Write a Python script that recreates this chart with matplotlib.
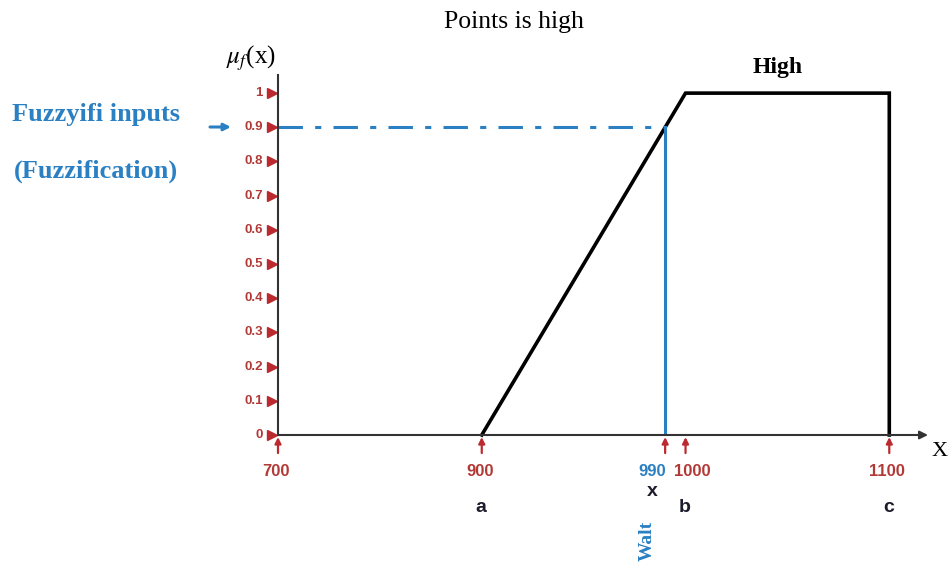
import numpy as np
import matplotlib
matplotlib.use('Agg')
import matplotlib.pyplot as plt
import matplotlib.transforms as mtransforms

# membership function "High" (trapezoid a-b-c)
shape_x = [900, 1000, 1100, 1100]
shape_y = [0, 1, 1, 0]

# crisp input
input_x = 990
input_mu = 0.9

xticks = [700, 900, 990, 1000, 1100]
xtick_labels = ['700', '900', '990', '1000', '1100']
yticks = [0, 0.1, 0.2, 0.3, 0.4, 0.5, 0.6, 0.7, 0.8, 0.9, 1]
ytick_labels = ['0', '0.1', '0.2', '0.3', '0.4', '0.5', '0.6', '0.7', '0.8', '0.9', '1']
point_names = ['a', 'b', 'c']
point_x = [900, 1000, 1100]

RED = '#bb2a2e'
LABEL_RED = '#b23a36'
BLUE = '#2a80c2'
DARK = '#333333'
SERIF = 'Liberation Serif'
SANS = 'Liberation Sans'
PT = 0.72  # points per pixel at dpi 100

plt.rcParams['mathtext.fontset'] = 'stix'


# x axis is squeezed to half scale below 900
def fwd(x):
    x = np.asarray(x, dtype=float)
    return np.where(x < 900, 900 - (900 - x) / 2.0, x)


def inv(y):
    y = np.asarray(y, dtype=float)
    return np.where(y < 900, 900 - (900 - y) * 2.0, y)


fig = plt.figure(figsize=(9.5, 5.65), dpi=100)
ax = fig.add_axes([278/950, 1 - 435/565, (928 - 278)/950, (435 - 75)/565])
ax.set_xscale('function', functions=(fwd, inv))
ax.set_xlim(700, 1119)
ax.set_ylim(0, 1.053)

for s in ['top', 'right', 'bottom']:
    ax.spines[s].set_visible(False)
ax.spines['left'].set_color(DARK)
ax.spines['left'].set_linewidth(1.5)
ax.annotate('', xy=(1.0, 0), xycoords='axes fraction', xytext=(0, 0),
            arrowprops=dict(arrowstyle='-|>', color=DARK, lw=1.5,
                            mutation_scale=12, shrinkA=0, shrinkB=0))
ax.set_xticks([])
ax.set_yticks([])

# the fuzzy set
ax.plot(shape_x, shape_y, color='black', lw=2.6, solid_joinstyle='miter', clip_on=False)

# fuzzification of the input
ax.plot([700, input_x], [input_mu, input_mu], color=BLUE, lw=2.2,
        dashes=[8, 4, 2, 4])
ax.plot([input_x, input_x], [0, input_mu], color=BLUE, lw=2.2)

# y ticks: red triangles and labels
trans_y = mtransforms.blended_transform_factory(ax.transAxes, ax.transData)
ax.plot([-0.009] * len(yticks), yticks, linestyle='none', marker='>',
        markersize=6.5, color=RED, transform=trans_y, clip_on=False)
for v, lab in zip(yticks, ytick_labels):
    ax.annotate(lab, xy=(0, v), xycoords=trans_y, xytext=(-15 * PT, 0),
                textcoords='offset points', ha='right', va='center',
                fontsize=9.5, fontweight='bold', color=LABEL_RED, family=SANS)

# x ticks: red up-arrows and labels
label_shift = {990: -13, 1000: 7}
for v, lab in zip(xticks, xtick_labels):
    ax.annotate('', xy=(v, 0), xytext=(0, -13), textcoords='offset points',
                arrowprops=dict(arrowstyle='-|>', color=RED, lw=1.6,
                                mutation_scale=9, shrinkA=0, shrinkB=1.5),
                annotation_clip=False)
    col = BLUE if v == input_x else LABEL_RED
    dx = label_shift.get(v, -2)
    ax.annotate(lab, xy=(v, 0), xytext=(dx * PT, -36 * PT), textcoords='offset points',
                ha='center', va='center', fontsize=12, fontweight='bold', color=col,
                family=SANS, annotation_clip=False)

for name, v in zip(point_names, point_x):
    ax.annotate(name, xy=(v, 0), xytext=(-1 * PT, -73 * PT), textcoords='offset points',
                ha='center', va='center', fontsize=14, color='#1c1c2c',
                family=SANS, fontweight='bold', annotation_clip=False)
ax.annotate('x', xy=(input_x, 0), xytext=(-13 * PT, -57 * PT), textcoords='offset points',
            ha='center', va='center', fontsize=14, color='#1c1c2c', family=SANS,
            fontweight='bold', annotation_clip=False)
ax.annotate('Walt', xy=(input_x, 0), xytext=(-18 * PT, -106 * PT), textcoords='offset points',
            ha='center', va='center', rotation=90, fontsize=14, color=BLUE,
            family=SERIF, fontweight='bold', annotation_clip=False)

ax.text(1045, 1.075, 'High', ha='center', va='center', fontsize=17,
        fontweight='bold', family=SERIF)

# axis names and title
fig.text(514/950, 1 - 22/565, 'Points is high', ha='center', va='center',
         fontsize=18.5, family=SERIF)
fig.text(251/950, 1 - 58/565, r'$\mu_f$(x)', ha='center', va='center',
         fontsize=18, family=SERIF)
fig.text(940/950, 1 - 452/565, 'X', ha='center', va='center',
         fontsize=16, family=SERIF)

# left side annotation
fig.text(96/950, 1 - 114/565, 'Fuzzyifi inputs', ha='center', va='center',
         fontsize=19, fontweight='bold', color=BLUE, family=SERIF)
fig.text(96/950, 1 - 171/565, '(Fuzzification)', ha='center', va='center',
         fontsize=19, fontweight='bold', color=BLUE, family=SERIF)
ax.annotate('', xy=(231/950, 1 - 127/565), xycoords='figure fraction',
            xytext=(210/950, 1 - 127/565),
            arrowprops=dict(arrowstyle='-|>', color=BLUE, lw=2.2,
                            mutation_scale=10, shrinkA=0, shrinkB=0))

fig.savefig('out.png', dpi=100, facecolor='white')
